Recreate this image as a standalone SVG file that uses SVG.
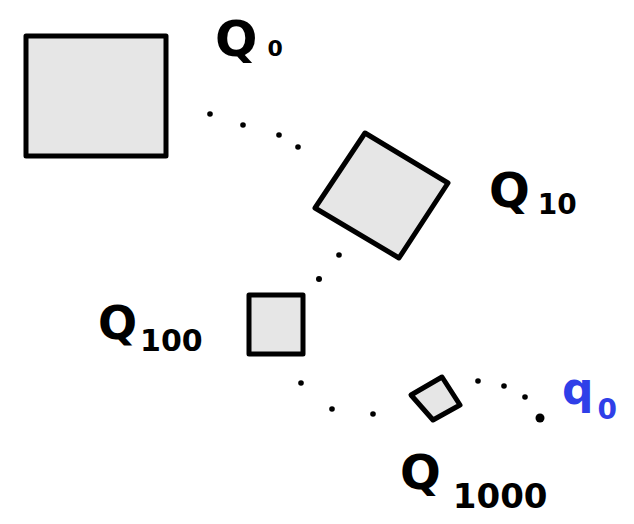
<svg xmlns="http://www.w3.org/2000/svg" width="634" height="524" viewBox="0 0 634 524">
<style>
.sq{fill:#e6e6e6;stroke:#000;stroke-width:5;stroke-linejoin:round}
.dot{fill:#000}
.lbl{font-family:"DejaVu Sans","Liberation Sans",sans-serif;fill:#000;font-weight:bold}
.blue{fill:#2f3fe8}
</style>
<rect width="634" height="524" fill="#fff"/>
<g id="connectors">
<circle class="dot" cx="210" cy="114" r="2.8"/>
<circle class="dot" cx="243" cy="125" r="2.8"/>
<circle class="dot" cx="279" cy="135" r="2.8"/>
<circle class="dot" cx="298" cy="147" r="2.8"/>
<circle class="dot" cx="339" cy="255" r="2.8"/>
<circle class="dot" cx="319" cy="279" r="3"/>
<circle class="dot" cx="301" cy="383" r="2.8"/>
<circle class="dot" cx="332" cy="409" r="2.8"/>
<circle class="dot" cx="373" cy="414" r="2.8"/>
<circle class="dot" cx="478" cy="381" r="2.8"/>
<circle class="dot" cx="504" cy="386" r="2.8"/>
<circle class="dot" cx="525" cy="397" r="2.8"/>
</g>
<g id="node-Q0">
<rect class="sq" x="26" y="36" width="140" height="120"/>
<text class="lbl" x="215" y="56" font-size="50">Q<tspan font-size="22" dx="10">0</tspan></text>
</g>
<g id="node-Q10">
<polygon class="sq" points="365,133 448,183 399,258 315,208"/>
<text class="lbl" x="489" y="207" font-size="48">Q<tspan font-size="28" dx="8" dy="7">10</tspan></text>
</g>
<g id="node-Q100">
<rect class="sq" x="249" y="295" width="54" height="59"/>
<text class="lbl" x="98" y="339" font-size="46">Q<tspan font-size="30" dx="3" dy="12">100</tspan></text>
</g>
<g id="node-Q1000">
<polygon class="sq" points="442,377 460,405 433,420 411,395"/>
<text class="lbl" x="400" y="489" font-size="48">Q<tspan font-size="34" dx="12" dy="19">1000</tspan></text>
</g>
<g id="node-q0">
<circle class="dot" cx="540" cy="418" r="4.5"/>
<text class="lbl blue" x="562" y="404" font-size="44">q<tspan font-size="28" dx="4" dy="15">0</tspan></text>
</g>
</svg>
